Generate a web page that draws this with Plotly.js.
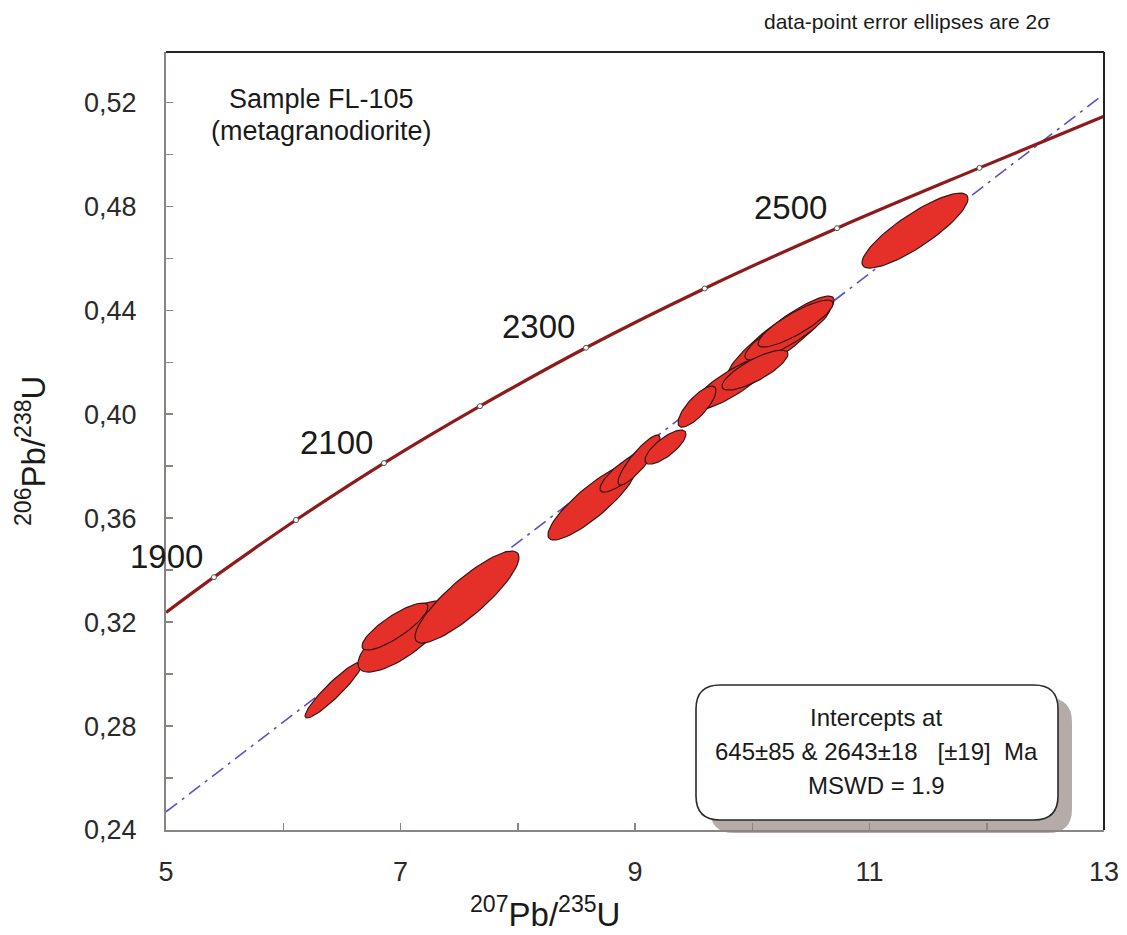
<!DOCTYPE html>
<html>
<head>
<meta charset="utf-8">
<script src="https://cdn.plot.ly/plotly-3.0.1.min.js"></script>
<style>html,body{margin:0;padding:0;background:#fff;}#chart{width:1127px;height:935px;}</style>
</head>
<body>
<div id="chart"></div>
<script>
// ---- Data ----
// Concordia curve (207Pb/235U, 206Pb/238U), incl. edge points
const concordiaX = [5.000, 5.409, 6.109, 6.859, 7.678, 8.582, 9.594, 10.723, 11.938, 13.000];
const concordiaY = [0.3237, 0.3373, 0.3593, 0.3812, 0.4031, 0.4256, 0.4484, 0.4716, 0.4948, 0.5147];
// Age markers on the concordia (Ma)
const markerAges = [1900, 2000, 2100, 2200, 2300, 2400, 2500, 2600];
const markerX = [5.409, 6.109, 6.859, 7.678, 8.582, 9.594, 10.723, 11.938];
const markerY = [0.3373, 0.3593, 0.3812, 0.4031, 0.4256, 0.4484, 0.4716, 0.4948];
const labelledAges = [1900, 2100, 2300, 2500];
// Discordia line end points
const discordiaX = [5, 13];
const discordiaY = [0.2470, 0.5232];
// Error ellipses (2 sigma): centre, half-widths, correlation
const ellCX  = [6.429, 7.021, 6.953, 7.567, 8.633, 8.906, 9.034, 9.260, 10.241, 10.300, 10.369, 9.827, 10.023, 9.529, 11.388];
const ellCY  = [0.29387, 0.31445, 0.31830, 0.32965, 0.36620, 0.37774, 0.38236, 0.38736, 0.42930, 0.43142, 0.43488, 0.41199, 0.41699, 0.40295, 0.47067];
const ellEX  = [0.2431, 0.3838, 0.2814, 0.4435, 0.3753, 0.2047, 0.1791, 0.1748, 0.4563, 0.3625, 0.3198, 0.3412, 0.2814, 0.1620, 0.4520];
const ellEY  = [0.01077, 0.01366, 0.00904, 0.01770, 0.01462, 0.00770, 0.00962, 0.00654, 0.01616, 0.01058, 0.00904, 0.01039, 0.00770, 0.00789, 0.01443];
const ellRho = [0.930, 0.766, 0.833, 0.863, 0.864, 0.828, 0.876, 0.762, 0.900, 0.860, 0.850, 0.850, 0.800, 0.780, 0.853];
// Axis ticks
const xTickVals = [5, 7, 9, 11, 13];
const yTickVals = [0.24, 0.28, 0.32, 0.36, 0.40, 0.44, 0.48, 0.52];
// Texts
const sampleLines = ["Sample FL-105", "(metagranodiorite)"];
const boxLines = ["Intercepts at", "645±85 & 2643±18   [±19]  Ma", "MSWD = 1.9"];
const noteText = "data-point error ellipses are 2σ";

// ---- Layout geometry ----
const W = 1127, H = 935;
const M = {l: 166, r: 23, t: 52, b: 105};
const PW = W - M.l - M.r, PH = H - M.t - M.b;
const px2paperX = px => (px - M.l) / PW;
const px2paperY = py => (H - M.b - py) / PH;

const FONT = "Liberation Sans, Arial, Helvetica, sans-serif";
const traces = [];

traces.push({
  x: discordiaX, y: discordiaY, mode: 'lines', hoverinfo: 'skip', showlegend: false,
  line: {color: '#5a50c8', width: 1.6, dash: '14px,6px,3px,6px'}
});
traces.push({
  x: concordiaX, y: concordiaY, mode: 'lines', hoverinfo: 'skip', showlegend: false,
  line: {color: '#8e1b1b', width: 3.2, shape: 'spline', smoothing: 1}
});
traces.push({
  x: markerX, y: markerY, mode: 'markers', hoverinfo: 'skip', showlegend: false,
  marker: {symbol: 'circle', size: 5, color: '#ffffff', line: {color: '#555', width: 1}}
});

// Error ellipses
const N = 72;
for (let i = 0; i < ellCX.length; i++) {
  const xs = [], ys = [];
  const s = Math.sqrt(1 - ellRho[i] * ellRho[i]);
  for (let k = 0; k <= N; k++) {
    const t = 2 * Math.PI * k / N;
    xs.push(ellCX[i] + ellEX[i] * Math.cos(t));
    ys.push(ellCY[i] + ellEY[i] * (ellRho[i] * Math.cos(t) + s * Math.sin(t)));
  }
  traces.push({
    x: xs, y: ys, mode: 'lines', fill: 'toself', fillcolor: '#e5302a',
    line: {color: '#3d1412', width: 1.2}, hoverinfo: 'skip', showlegend: false
  });
}

// Rounded box (pixels -> paper)
function roundRect(x0, y0, x1, y1, r) {
  const X = px2paperX, Y = px2paperY;
  return 'M' + X(x0 + r) + ',' + Y(y0) +
    ' L' + X(x1 - r) + ',' + Y(y0) +
    ' Q' + X(x1) + ',' + Y(y0) + ' ' + X(x1) + ',' + Y(y0 + r) +
    ' L' + X(x1) + ',' + Y(y1 - r) +
    ' Q' + X(x1) + ',' + Y(y1) + ' ' + X(x1 - r) + ',' + Y(y1) +
    ' L' + X(x0 + r) + ',' + Y(y1) +
    ' Q' + X(x0) + ',' + Y(y1) + ' ' + X(x0) + ',' + Y(y1 - r) +
    ' L' + X(x0) + ',' + Y(y0 + r) +
    ' Q' + X(x0) + ',' + Y(y0) + ' ' + X(x0 + r) + ',' + Y(y0) + ' Z';
}
const box = {x0: 696, y0: 685, x1: 1058, y1: 820, r: 24};

const shapes = [
  {type: 'path', xref: 'paper', yref: 'paper', layer: 'below',
   path: roundRect(box.x0 + 14, box.y0 + 13, box.x1 + 14, box.y1 + 13, box.r),
   fillcolor: '#b5acaa', line: {width: 0}},
  {type: 'path', xref: 'paper', yref: 'paper', layer: 'below',
   path: roundRect(box.x0, box.y0, box.x1, box.y1, box.r),
   fillcolor: '#ffffff', line: {color: '#2a2a2a', width: 1.6}},
  {type: 'line', xref: 'paper', yref: 'paper', x0: 0, x1: 1, y0: 1, y1: 1, line: {color: '#222', width: 2}},
  {type: 'line', xref: 'paper', yref: 'paper', x0: 1, x1: 1, y0: 0, y1: 1, line: {color: '#222', width: 2}}
];

const annotations = [];
function txt(px, py, text, size, extra) {
  annotations.push(Object.assign({x: px2paperX(px), y: px2paperY(py), xref: 'paper', yref: 'paper',
    xanchor: 'center', yanchor: 'middle', text: text, showarrow: false,
    font: {family: FONT, size: size, color: '#1a1a1a'}}, extra || {}));
}
// concordia age labels
for (let i = 0; i < markerAges.length; i++) {
  if (labelledAges.indexOf(markerAges[i]) < 0) continue;
  annotations.push({x: markerX[i], y: markerY[i], xref: 'x', yref: 'y', text: String(markerAges[i]),
    xanchor: 'center', yanchor: 'middle',
    showarrow: false, xshift: -47, yshift: 21, font: {family: FONT, size: 33, color: '#1a1a1a'}});
}
txt(321, 99, sampleLines[0], 27);
txt(321, 131, sampleLines[1], 27);
const boxY = [717, 751, 785];
for (let i = 0; i < boxLines.length; i++) txt(876, boxY[i], boxLines[i], 24);
txt(1052, 22, noteText, 21, {xanchor: 'right'});
// axis titles
txt(545, 912, '<sup>207</sup>Pb/<sup>235</sup>U', 33);
txt(31, 451, '<sup>206</sup>Pb/<sup>238</sup>U', 33, {textangle: -90});

const axisCol = '#8a8482';
const layout = {
  width: W, height: H,
  margin: M,
  paper_bgcolor: '#ffffff', plot_bgcolor: '#ffffff',
  separators: ', ',
  showlegend: false,
  font: {family: FONT, color: '#2a2a2a'},
  xaxis: {
    range: [5, 13], tickvals: xTickVals, ticktext: xTickVals.map(String),
    ticks: 'inside', ticklen: 7, tickwidth: 1.5, tickcolor: axisCol,
    minor: {dtick: 1, tick0: 5, ticks: 'inside', ticklen: 7, tickwidth: 1.5, tickcolor: axisCol, showgrid: false},
    showline: true, linecolor: axisCol, linewidth: 2, showgrid: false, zeroline: false,
    tickfont: {family: FONT, size: 27, color: '#2a2a2a'}, ticklabelstandoff: 17, automargin: false, fixedrange: true
  },
  yaxis: {
    range: [0.24, 0.5394], tickvals: yTickVals, tickformat: '.2f',
    ticks: 'inside', ticklen: 7, tickwidth: 1.5, tickcolor: axisCol,
    minor: {dtick: 0.02, tick0: 0.24, ticks: 'inside', ticklen: 7, tickwidth: 1.5, tickcolor: axisCol, showgrid: false},
    showline: true, linecolor: axisCol, linewidth: 2, showgrid: false, zeroline: false,
    tickfont: {family: FONT, size: 27, color: '#2a2a2a'}, ticklabelstandoff: 22, automargin: false, fixedrange: true
  },
  shapes: shapes,
  annotations: annotations
};

Plotly.newPlot('chart', traces, layout, {displayModeBar: false, staticPlot: true});
</script>
</body>
</html>
